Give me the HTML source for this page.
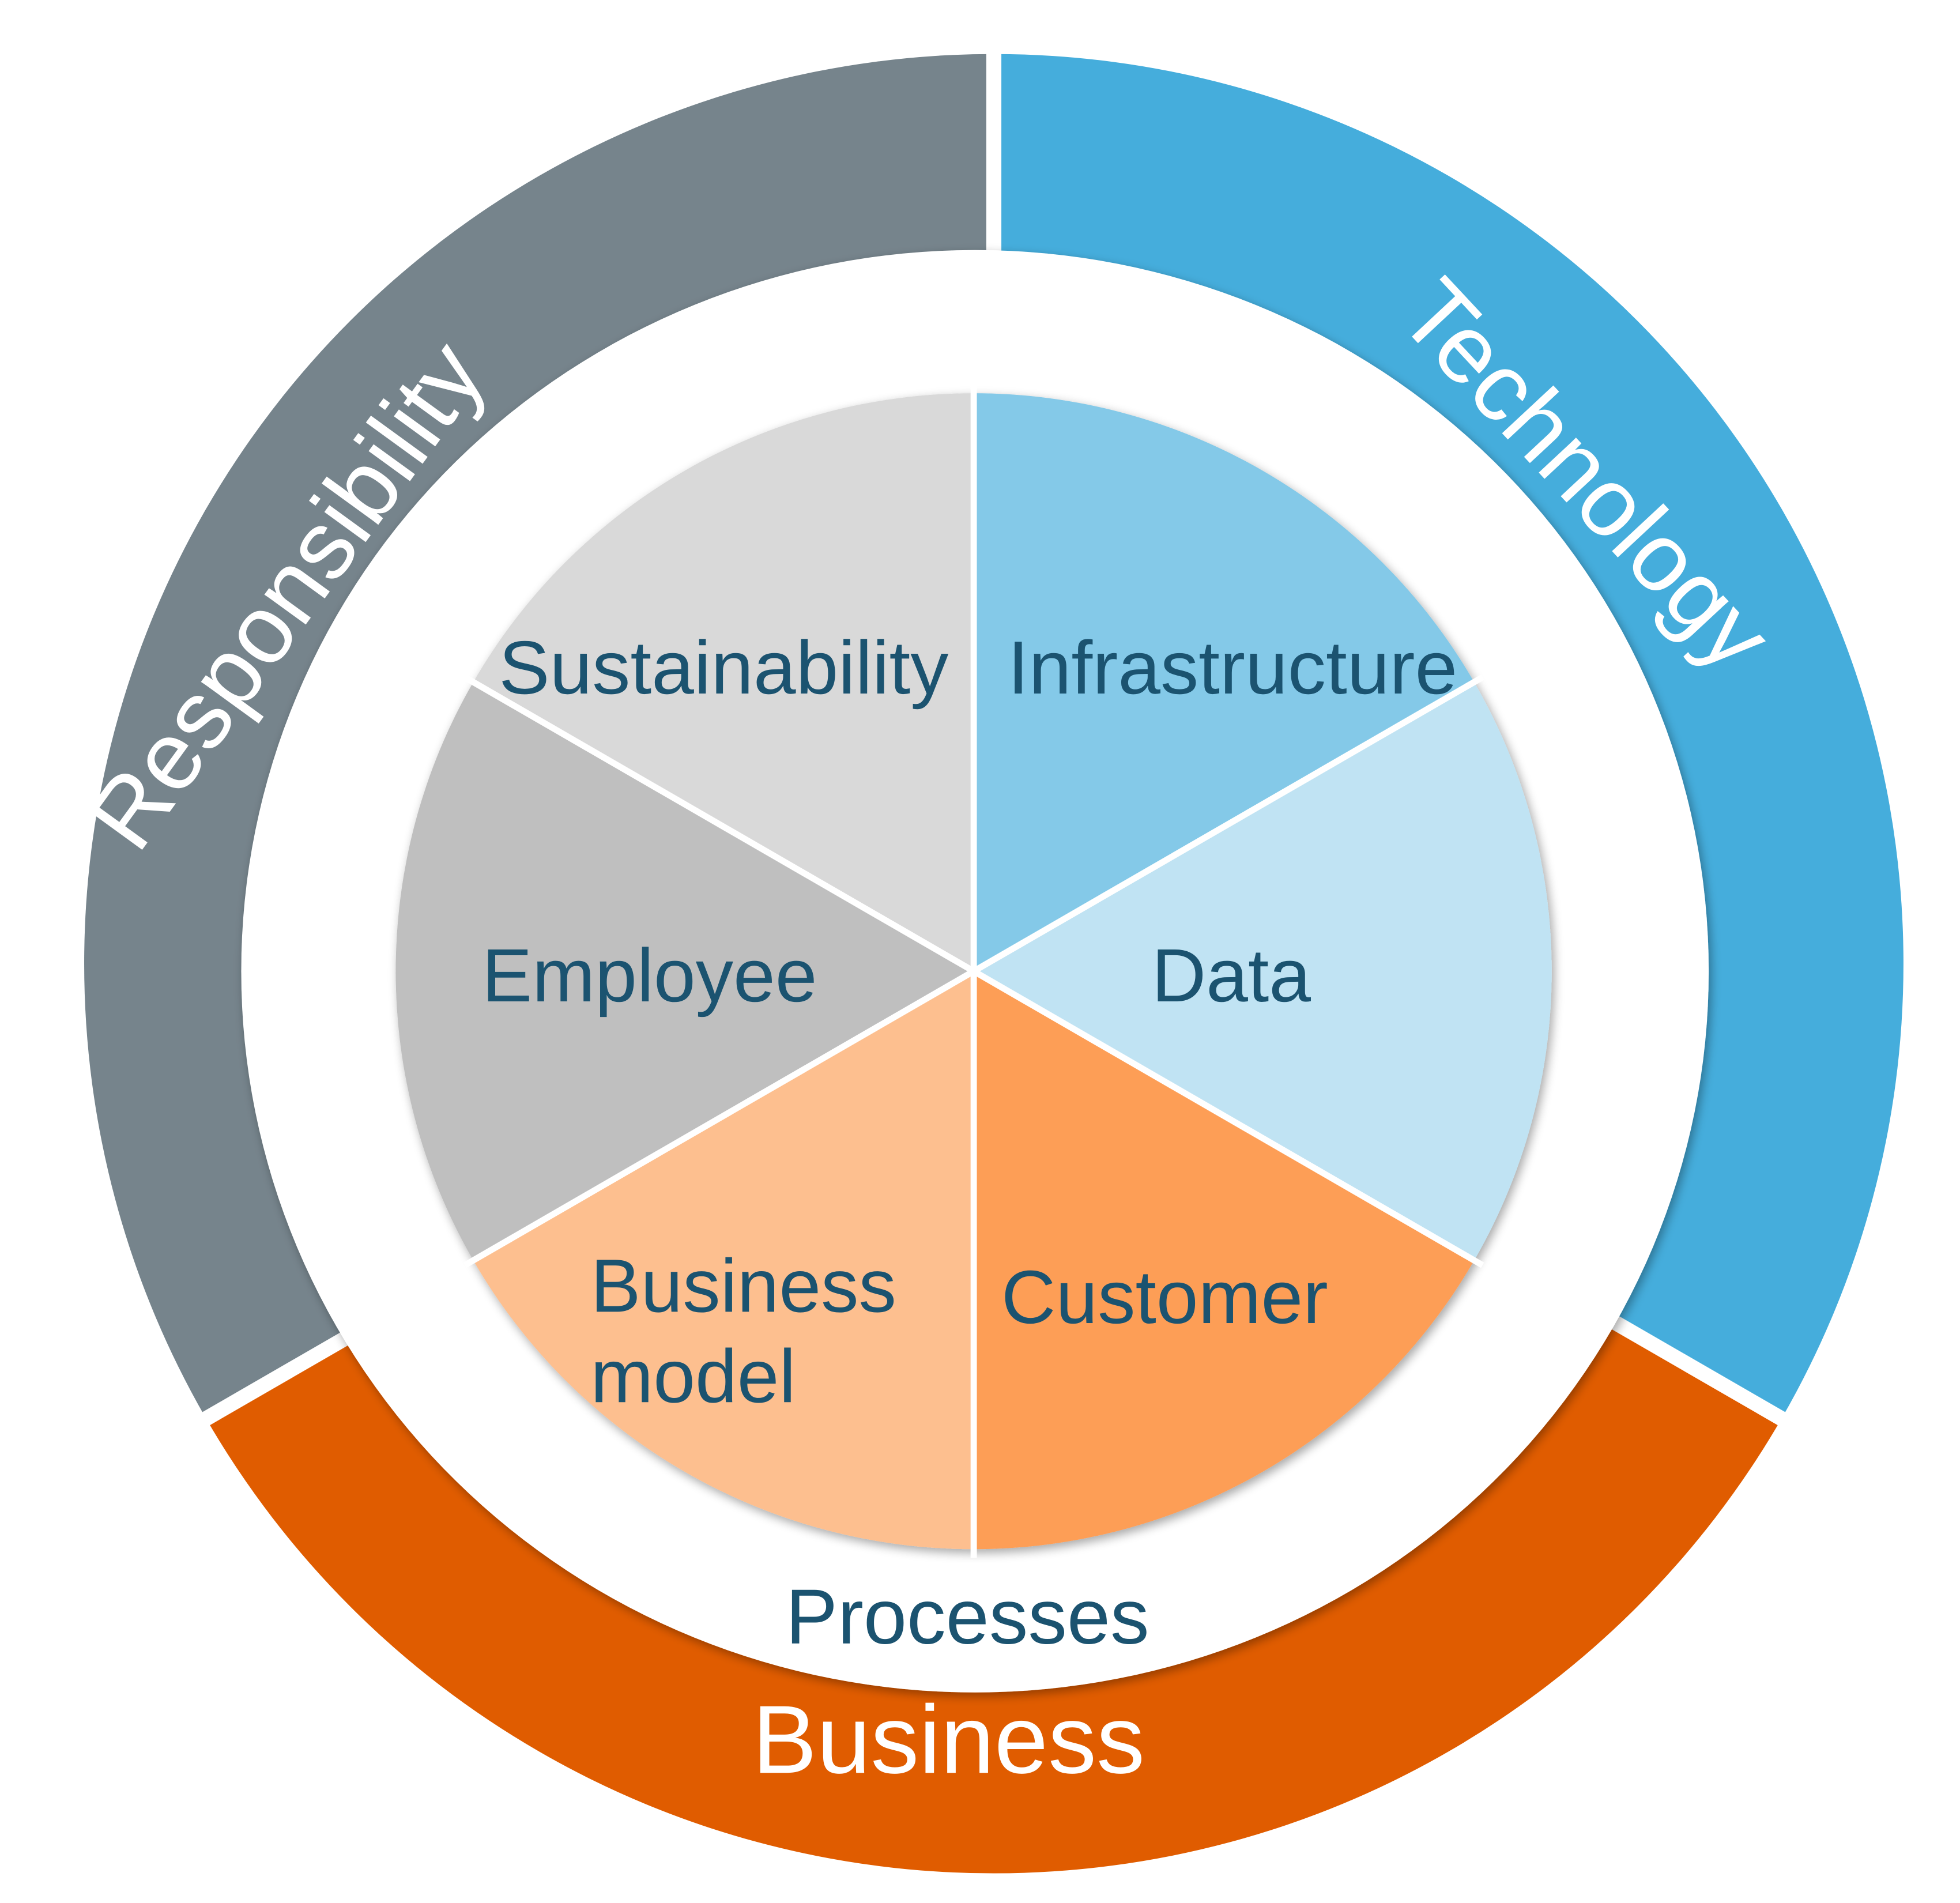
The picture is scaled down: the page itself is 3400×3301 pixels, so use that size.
<!DOCTYPE html>
<html><head><meta charset="utf-8"><style>
html,body{margin:0;padding:0;background:#fff;}
svg{display:block;}
text{font-family:"Liberation Sans",Arial,sans-serif;}
</style></head><body>
<svg width="3400" height="3301" viewBox="0 0 1560 1514.6" preserveAspectRatio="none" xmlns="http://www.w3.org/2000/svg">
<defs>
<filter id="sh" x="-10%" y="-10%" width="120%" height="120%">
<feGaussianBlur in="SourceAlpha" stdDeviation="4"/>
<feOffset dx="2" dy="3"/>
<feComponentTransfer><feFuncA type="linear" slope="0.35"/></feComponentTransfer>
<feMerge><feMergeNode/><feMergeNode in="SourceGraphic"/></feMerge>
</filter>
</defs>
<rect width="1560" height="1515" fill="#fff"/>
<path d="M791,767 L791,43 A724,724 0 0 0 164,1129 Z" fill="#76848c"/>
<path d="M791,767 L1418,1129 A724,724 0 0 0 791,43 Z" fill="#45addc"/>
<path d="M791,767 L164,1129 A724,724 0 0 0 1418,1129 Z" fill="#e05c00"/>
<g stroke="#fff" stroke-width="12">
<line x1="791" y1="767" x2="791" y2="20"/>
<line x1="791" y1="767" x2="140" y2="1143"/>
<line x1="791" y1="767" x2="1442" y2="1143"/>
</g>
<ellipse cx="776" cy="773" rx="584" ry="574" fill="#fff" filter="url(#sh)"/>
<g filter="url(#sh)">
<path d="M775,773 L775,313 A460,460 0 0 0 376.6,543 Z" fill="#d9d9d9"/>
<path d="M775,773 L376.6,543 A460,460 0 0 0 376.6,1003 Z" fill="#bfbfbf"/>
<path d="M775,773 L376.6,1003 A460,460 0 0 0 775,1233 Z" fill="#fdbf8f"/>
<path d="M775,773 L775,1233 A460,460 0 0 0 1173.4,1003 Z" fill="#fd9e57"/>
<path d="M775,773 L1173.4,1003 A460,460 0 0 0 1173.4,543 Z" fill="#c0e3f3"/>
<path d="M775,773 L1173.4,543 A460,460 0 0 0 775,313 Z" fill="#84c9e8"/>
</g>
<g stroke="#fff" stroke-width="5">
<line x1="775" y1="773" x2="775" y2="305"/>
<line x1="775" y1="773" x2="775" y2="1240"/>
<line x1="775" y1="773" x2="370" y2="539"/>
<line x1="775" y1="773" x2="1180" y2="539"/>
<line x1="775" y1="773" x2="370" y2="1007"/>
<line x1="775" y1="773" x2="1180" y2="1007"/>
</g>
<g fill="#1b5370" font-size="60">
<text x="576" y="552" text-anchor="middle" textLength="358" lengthAdjust="spacingAndGlyphs">Sustainability</text>
<text x="981" y="552" text-anchor="middle" textLength="358" lengthAdjust="spacingAndGlyphs">Infrastructure</text>
<text x="517" y="797" text-anchor="middle">Employee</text>
<text x="980" y="797" text-anchor="middle">Data</text>
<text x="470" y="1044">Business</text>
<text x="470" y="1116">model</text>
<text x="927" y="1053" text-anchor="middle">Customer</text>
<text x="770" y="1308" text-anchor="middle" font-size="62">Processes</text>
</g>
<text x="755" y="1411" text-anchor="middle" font-size="77" fill="#fff">Business</text>
<text transform="translate(1262,378) rotate(47)" text-anchor="middle" font-size="77" fill="#fff" dy="26">Technology</text>
<text transform="translate(228,474) rotate(-54)" text-anchor="middle" font-size="77" fill="#fff" dy="26">Responsibility</text>
</svg>
</body></html>
